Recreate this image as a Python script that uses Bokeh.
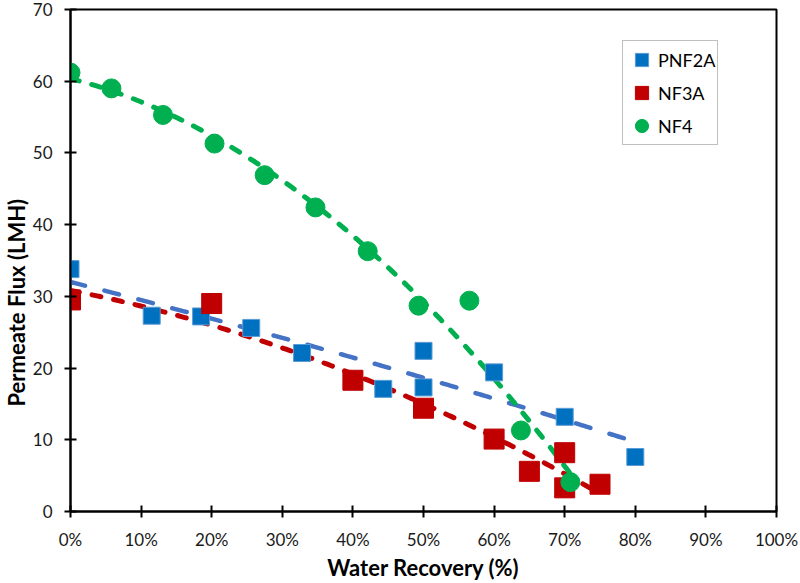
import numpy as np
from bokeh.plotting import figure
from bokeh.models import Range1d, FixedTicker, Legend, LegendItem, Title
from bokeh.embed import file_html
from bokeh.resources import INLINE

# ---- data ----
pnf2a_x = [0, 11.5, 18.5, 25.6, 32.8, 44.3, 50, 50, 60, 70, 80]
pnf2a_y = [33.8, 27.3, 27.2, 25.6, 22.1, 17.1, 22.4, 17.3, 19.4, 13.2, 7.6]

nf3a_x = [0, 20, 40, 50, 60, 65, 70, 70, 75]
nf3a_y = [29.5, 29.0, 18.3, 14.4, 10.1, 5.6, 8.2, 3.3, 3.8]

nf4_x = [0, 5.8, 13.1, 20.4, 27.5, 34.7, 42.1, 49.3, 56.5, 63.8, 70.8]
nf4_y = [61.2, 59.0, 55.3, 51.3, 46.9, 42.4, 36.3, 28.7, 29.4, 11.3, 4.1]

x_ticks = [0, 10, 20, 30, 40, 50, 60, 70, 80, 90, 100]
x_tick_labels = ["0%", "10%", "20%", "30%", "40%", "50%", "60%", "70%", "80%", "90%", "100%"]
y_ticks = [0, 10, 20, 30, 40, 50, 60, 70]

FONT = "Lato"

p = figure(width=800, height=583, output_backend="svg", toolbar_location=None,
           x_range=Range1d(0, 100), y_range=Range1d(0, 70),
           min_border_left=68, min_border_right=24, min_border_top=9, min_border_bottom=70)
p.xgrid.visible = False
p.ygrid.visible = False
p.outline_line_color = "black"
p.outline_line_width = 2
p.outline_line_alpha = 1


def trend(xs, ys, deg):
    c = np.polyfit(xs, ys, deg)
    xx = np.linspace(min(xs), max(xs), 200)
    return xx, np.polyval(c, xx)

# trendlines (least-squares fits of the series, as in the source chart)
bx, by = trend(pnf2a_x, pnf2a_y, 2)
rx, ry = trend(nf3a_x, nf3a_y, 2)
gx, gy = trend(nf4_x, nf4_y, 2)

p.line(bx, by, line_color="#4472C4", line_width=4.5, line_dash="15 20", line_cap="round")
p.line(rx, ry, line_color="#C00000", line_width=5, line_dash="9 13", line_cap="round")
p.line(gx, gy, line_color="#00B050", line_width=5, line_dash="9 13", line_cap="round")

r_b = p.scatter(pnf2a_x, pnf2a_y, marker="square", size=17, fill_color="#0070C0",
                line_color="#5B9BD5", line_width=1)
r_r = p.scatter(nf3a_x, nf3a_y, marker="square", size=20, fill_color="#C00000",
                line_color="#C00000", line_width=1)
r_g = p.scatter(nf4_x, nf4_y, marker="circle", size=19, fill_color="#00B050",
                line_color="#00B050", line_width=1)

legend = Legend(items=[LegendItem(label="PNF2A", renderers=[r_b]),
                       LegendItem(label="NF3A", renderers=[r_r]),
                       LegendItem(label="NF4", renderers=[r_g])],
                location=(552, 366), orientation="vertical",
                glyph_width=33, glyph_height=33, spacing=0, padding=2, margin=0,
                label_standoff=0, label_text_font=FONT, label_text_font_size="18px",
                label_text_color="black", label_text_baseline="middle",
                border_line_color="#7F7F7F", border_line_width=1.5,
                background_fill_color="white", background_fill_alpha=1)
p.add_layout(legend, "center")

for ax in (p.xaxis[0], p.yaxis[0]):
    ax.axis_line_color = "black"
    ax.axis_line_width = 2
    ax.major_tick_line_color = "black"
    ax.major_tick_line_width = 2
    ax.major_tick_in = 6
    ax.major_tick_out = 6
    ax.minor_tick_line_color = None
    ax.major_label_text_font = FONT
    ax.major_label_text_font_size = "17px"
    ax.major_label_text_color = "#1a1a1a"
    ax.axis_label_text_font = FONT
    ax.axis_label_text_font_size = "22px"
    ax.axis_label_text_font_style = "bold"
    ax.axis_label_text_color = "black"

p.xaxis.ticker = FixedTicker(ticks=x_ticks)
p.xaxis.major_label_overrides = {t: l for t, l in zip(x_ticks, x_tick_labels)}
p.xaxis.major_label_standoff = 11
p.xaxis.axis_label = "Water Recovery (%)"
p.xaxis.axis_label_standoff = 1

p.yaxis.ticker = FixedTicker(ticks=y_ticks)
p.yaxis.major_label_standoff = 12

ytitle = Title(text="Permeate Flux (LMH)", align="left", offset=105, standoff=0,
               text_font=FONT, text_font_size="22px", text_font_style="bold",
               text_color="black")
p.add_layout(ytitle, "left")

open("out.html", "w").write(file_html(p, INLINE))
